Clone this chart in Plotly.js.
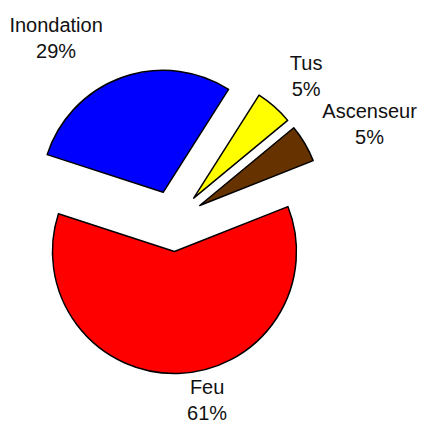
<!DOCTYPE html>
<html>
<head>
<meta charset="utf-8">
<script src="https://cdn.plot.ly/plotly-3.0.1.min.js"></script>
<style>
html,body{margin:0;padding:0;background:#fff;}
#chart{width:422px;height:436px;}
#chart path.textline{display:none;}
</style>
</head>
<body>
<div id="chart"></div>
<script>
const categories = ["Inondation", "Tus", "Ascenseur", "Feu"];
const values = [29, 5, 5, 61];
const sliceColors = ["#0000FF", "#FFFF00", "#663300", "#FF0000"];
const pulls = [0.25, 0.25, 0.25, 0.25];

const startAngle = 288;
const labelFont = {family: "Liberation Sans, Arial, sans-serif", size: 20, color: "#111111"};

const data = [
  {
    type: "pie",
    labels: categories,
    values: values,
    sort: false,
    direction: "clockwise",
    rotation: startAngle,
    pull: pulls,
    marker: {colors: sliceColors, line: {color: "#000000", width: 1.5}},
    textinfo: "none",
    domain: {x: [0.0498, 0.7725], y: [0.1433, 0.8429]},
    showlegend: false,
    hoverinfo: "label+percent"
  },
  {
    // transparent copy of the same data, used only to place the outside labels
    type: "pie",
    labels: categories,
    values: values,
    sort: false,
    direction: "clockwise",
    rotation: startAngle,
    marker: {colors: categories.map(() => "rgba(0,0,0,0)"), line: {width: 0}},
    textposition: "outside",
    textinfo: "label+percent",
    texttemplate: "%{label}<br>%{percent:.0%}",
    textfont: labelFont,
    domain: {x: [0.0166, 0.7891], y: [0.1376, 0.8853]},
    showlegend: false,
    hoverinfo: "skip"
  }
];

const layout = {
  width: 422,
  height: 436,
  margin: {l: 0, r: 0, t: 0, b: 0},
  paper_bgcolor: "#ffffff",
  showlegend: false
};

Plotly.newPlot("chart", data, layout, {staticPlot: true});
</script>
</body>
</html>
